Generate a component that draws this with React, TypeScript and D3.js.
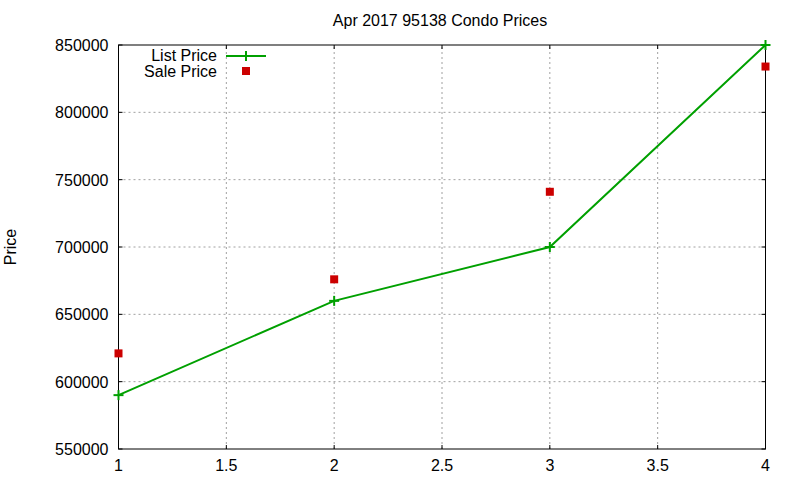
import React from "react";
import * as d3 from "d3";

const xValues = [1, 2, 3, 4];
const listPrice = [590000, 660000, 700000, 850000];
const salePrice = [621000, 676000, 741000, 834000];
const xTicks = [1, 1.5, 2, 2.5, 3, 3.5, 4];
const yTicks = [550000, 600000, 650000, 700000, 750000, 800000, 850000];
const title = "Apr 2017 95138 Condo Prices";

export default function App() {
  const W = 800, H = 480;
  const L = 118.5, R = 765.5, T = 45, B = 449;
  const x = d3.scaleLinear().domain([1, 4]).range([L, R]);
  const y = d3.scaleLinear().domain([550000, 850000]).range([B, T]);
  const line = d3.line<number>().x((_, i) => x(xValues[i])).y((d) => y(d));
  const font = "'Liberation Sans', Arial, sans-serif";
  const green = "#00a000";
  const red = "#cc0000";
  return (
    <svg width={W} height={H} style={{ position: "absolute", left: 0, top: 0, background: "#fff" }} fontFamily={font} fontSize={16}>
      <rect x={0} y={0} width={W} height={H} fill="#fff" />
      {xTicks.slice(1, -1).map((t) => (
        <line key={"gx" + t} x1={x(t)} x2={x(t)} y1={B} y2={T} stroke="#a0a0a0" strokeDasharray="2,3" />
      ))}
      {yTicks.slice(1, -1).map((t) => (
        <line key={"gy" + t} x1={L} x2={R} y1={y(t)} y2={y(t)} stroke="#a0a0a0" strokeDasharray="2,3" />
      ))}
      {yTicks.map((t) => (
        <g key={"ty" + t}>
          <line x1={L} x2={L + 4} y1={y(t)} y2={y(t)} stroke="#000" />
          <line x1={R} x2={R - 4} y1={y(t)} y2={y(t)} stroke="#000" />
          <text x={L - 10} y={y(t) + 6} textAnchor="end">{t}</text>
        </g>
      ))}
      {xTicks.map((t) => (
        <g key={"tx" + t}>
          <line x1={x(t)} x2={x(t)} y1={B} y2={B - 4} stroke="#000" />
          <line x1={x(t)} x2={x(t)} y1={T} y2={T + 4} stroke="#000" />
          <text x={x(t)} y={B + 22} textAnchor="middle">{t}</text>
        </g>
      ))}
      <rect x={L} y={T} width={R - L} height={B - T} fill="none" stroke="#000" />
      <text x={440} y={26} textAnchor="middle">{title}</text>
      <text transform={`translate(16,${(T + B) / 2}) rotate(-90)`} textAnchor="middle">Price</text>
      <path d={line(listPrice) || ""} fill="none" stroke={green} strokeWidth={2} />
      {listPrice.map((v, i) => (
        <g key={"lp" + i} stroke={green} strokeWidth={2}>
          <line x1={x(xValues[i]) - 5} x2={x(xValues[i]) + 5} y1={y(v)} y2={y(v)} />
          <line x1={x(xValues[i])} x2={x(xValues[i])} y1={y(v) - 5} y2={y(v) + 5} />
        </g>
      ))}
      {salePrice.map((v, i) => (
        <rect key={"sp" + i} x={x(xValues[i]) - 4} y={y(v) - 4} width={8} height={8} fill={red} />
      ))}
      <text x={217} y={61} textAnchor="end">List Price</text>
      <line x1={226} x2={266} y1={56} y2={56} stroke={green} strokeWidth={2} />
      <line x1={241} x2={251} y1={56} y2={56} stroke={green} strokeWidth={2} />
      <line x1={246} x2={246} y1={51} y2={61} stroke={green} strokeWidth={2} />
      <text x={217} y={77} textAnchor="end">Sale Price</text>
      <rect x={242} y={67} width={8} height={8} fill={red} />
    </svg>
  );
}
